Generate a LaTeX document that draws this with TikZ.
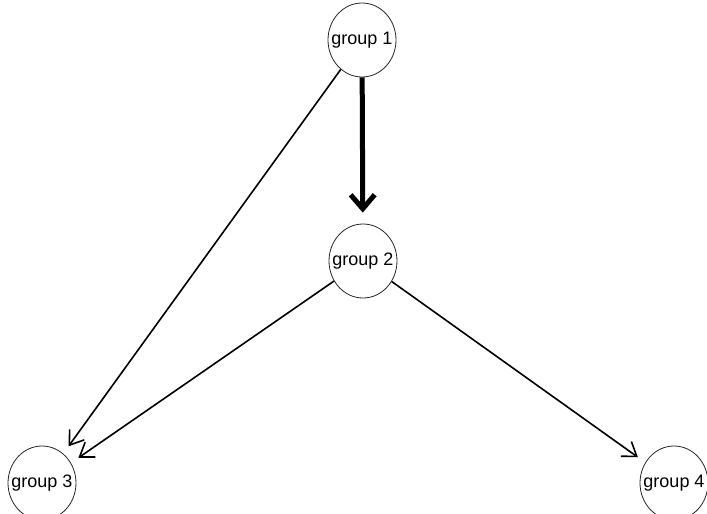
\documentclass[tikz,border=0pt]{standalone}
\usepackage{fontspec}
\setmainfont{Liberation Sans}
\usetikzlibrary{shapes.geometric,arrows.meta}
\begin{document}
\begin{tikzpicture}[x=1pt,y=-1pt,
  vertex/.style={ellipse,draw=black!85,line width=0.8pt,inner sep=0pt,
    minimum width=68pt,minimum height=74pt,font=\fontsize{18}{20}\selectfont},
  link/.style={line width=1.6pt,shorten >=9pt,
    -{Straight Barb[length=13pt,width=18pt,line width=1.6pt]}},
  heavylink/.style={line width=5pt,shorten >=11pt,
    -{Straight Barb[length=14pt,width=24pt,line width=5pt]}}]
\useasboundingbox (0,0) rectangle (707,514);
\clip (0,0) rectangle (707,514);
\node[vertex] (g1) at (362,40) {\makebox[0pt]{group 1}};
\node[vertex] (g2) at (363,261) {\makebox[0pt]{group 2}};
\node[vertex] (g3) at (42,483) {\makebox[0pt]{group 3}};
\node[vertex] (g4) at (674,483) {\makebox[0pt]{group 4}};
\draw[heavylink] (g1) -- (g2);
\draw[link] (g1) -- (g3);
\draw[link] (g2) -- (g3);
\draw[link] (g2) -- (g4);
\end{tikzpicture}
\end{document}
